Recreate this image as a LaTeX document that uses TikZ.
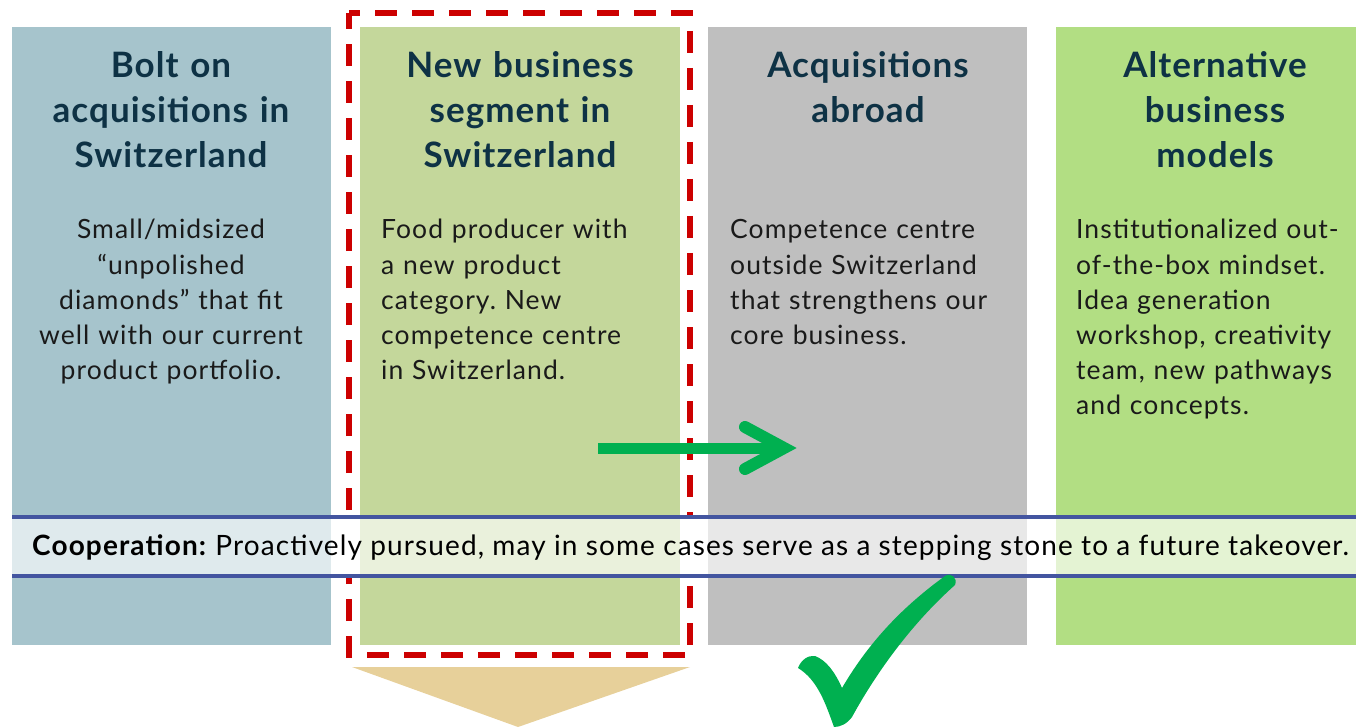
\documentclass[tikz,border=0pt]{standalone}
\usepackage{fontspec}
\setmainfont{Lato}
\newfontfamily\ttlfont{Lato}[LetterSpace=3]
\newfontfamily\bodyfont{Lato}[LetterSpace=4]
\newfontfamily\coopfont{Lato}[LetterSpace=4]
\definecolor{cA}{HTML}{A6C4CC}
\definecolor{cB}{HTML}{C4D79B}
\definecolor{cC}{HTML}{BFBFBF}
\definecolor{cD}{HTML}{B2DE83}
\definecolor{ttl}{HTML}{0E3245}
\definecolor{bandline}{HTML}{4355A0}
\definecolor{redd}{HTML}{CC0000}
\definecolor{tan}{HTML}{E7D09A}
\definecolor{grn}{HTML}{00B050}
\definecolor{txt}{HTML}{1A1A1A}
\tikzset{
  ttlnode/.style={text=ttl, text width=320pt, align=center, anchor=base, inner sep=0pt,
     font={\frenchspacing\ttlfont\fontsize{35}{45}\selectfont\bfseries}},
  bodyc/.style={text=txt, text width=320pt, align=center, anchor=base, inner sep=0pt,
     font={\frenchspacing\bodyfont\fontsize{26.5}{35.2}\selectfont}},
  bodyl/.style={text=txt, text width=300pt, align=left, anchor=base west, inner sep=0pt,
     font={\frenchspacing\bodyfont\fontsize{26.5}{35.2}\selectfont}},
}
\begin{document}
\begin{tikzpicture}[x=1pt,y=-1pt]
\useasboundingbox (0,0) rectangle (1356,727);
% columns
\fill[cA] (12,27) rectangle (331,645);
\fill[cB] (360,27) rectangle (680,645);
\fill[cC] (708,27) rectangle (1027,645);
\fill[cD] (1056,27) rectangle (1356,645);
% titles
\node[ttlnode] (t1) at (171,78) {Bolt on\\acquisitions in\\Switzerland};
\node[ttlnode] (t2) at (520,78) {New business\\segment in\\Switzerland};
\node[ttlnode] (t3) at (868,78) {Acquisitions\\abroad};
\node[ttlnode] (t4) at (1215,78) {Alternative\\business\\models};
% bodies
\node[bodyc] (b1) at (171,239) {Small/midsized\\“unpolished\\diamonds” that fit\\well with our current\\product portfolio.};
\node[bodyl] (b2) at (381,239) {Food producer with\\a new product\\category. New\\competence centre\\in Switzerland.};
\node[bodyl] (b3) at (730,239) {Competence centre\\outside Switzerland\\that strengthens our\\core business.};
\node[bodyl] (b4) at (1076,239) {Institutionalized out-\\of-the-box mindset.\\Idea generation\\workshop, creativity\\team, new pathways\\and concepts.};
% tan arrow
\fill[tan] (352,667) -- (690,667) -- (518,727) -- cycle;
% red dashed frame
\draw[redd, line width=5.5pt, dash pattern=on 22pt off 15pt, dash phase=11pt]
  (349,13) -- (690,13) -- (690,655) -- (349,655) -- cycle;
% cooperation band
\fill[white, opacity=0.65] (12,517) rectangle (1356,576);
\fill[white] (331,517) rectangle (360,576);
\fill[white] (680,517) rectangle (708,576);
\draw[bandline, line width=4pt] (12,517) -- (1356,517);
\draw[bandline, line width=4pt] (12,576) -- (1356,576);
\node[anchor=base west, inner sep=0pt, text=black, font={\frenchspacing\coopfont\fontsize{28}{30}\selectfont}] (coop) at (32,555) {\textbf{Cooperation:} Proactively pursued, may in some cases serve as a stepping stone to a future takeover.};
% green arrow
\coordinate (as) at (598,448);
\coordinate (ae) at (784,448);
\draw[grn, line width=11pt] (as) -- (ae);
\draw[grn, line width=12pt, line cap=round, line join=miter] (745,427) -- (ae) -- (745,469);
% check mark
\fill[grn] (798,668) .. controls (801,660) and (808,655) .. (815,656)
  .. controls (826,660) and (835,672) .. (842,688)
  .. controls (870,640) and (905,605) .. (945,576)
  .. controls (951,572) and (958,578) .. (955,585)
  .. controls (910,625) and (875,675) .. (852,717)
  .. controls (847,724) and (840,727) .. (834,727)
  .. controls (826,705) and (818,680) .. (798,668) -- cycle;
\end{tikzpicture}
\end{document}
